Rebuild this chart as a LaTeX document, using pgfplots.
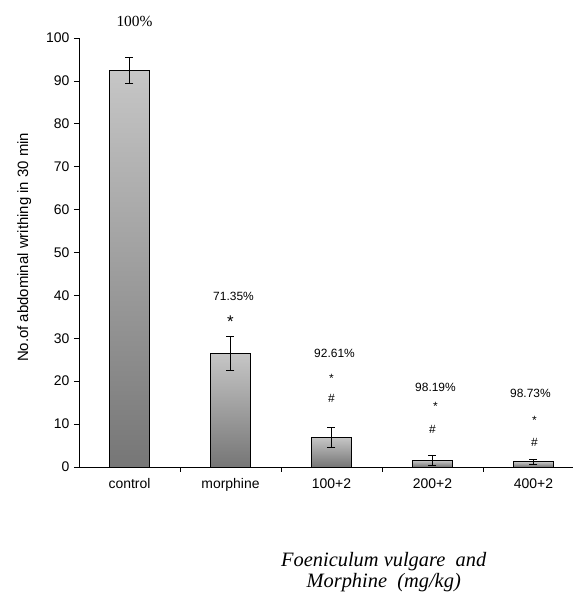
\documentclass[border=0pt]{standalone}
\usepackage{fontspec}
\setmainfont{Liberation Sans}
\newfontfamily\serif{Liberation Serif}
\usepackage{pgfplots}
\pgfplotsset{compat=1.18}

\definecolor{bartop}{RGB}{198,198,198}
\definecolor{barbot}{RGB}{118,118,118}

\pgfplotsset{mybar/.style={ybar, bar shift=0pt, draw=black, line width=0.7pt,
    top color=bartop, bottom color=barbot,
    error bars/.cd, y dir=both, y explicit,
    error bar style={black, line width=0.8pt},
    error mark options={rotate=90, mark size=4bp, black, line width=0.8pt}}}

\begin{document}
\begin{tikzpicture}
\path (0,0) rectangle (573bp,595bp);
\begin{axis}[
  at={(79bp,128bp)}, anchor=south west,
  scale only axis, width=494bp, height=429bp,
  xmin=-0.5, xmax=4.39, ymin=0, ymax=100,
  axis lines*=left,
  axis line style={line width=0.6pt},
  ytick={0,10,...,100},
  xtick={0,...,4},
  xticklabels={control,morphine,100+2,200+2,400+2},
  major x tick style={draw=none},
  minor xtick={0.5,1.5,2.5,3.5},
  tick align=outside,
  major tick length=5bp, minor tick length=5bp,
  tick style={black, line width=0.6pt},
  /pgf/number format/assume math mode=true,
  tick label style={font=\fontsize{14}{16}\selectfont},
  xticklabel style={yshift=-3bp},
  yticklabel style={xshift=-1bp},
  ylabel={No.of abdominal writhing in 30 min},
  ylabel style={at={(axis description cs:-0.111,0.512)}, anchor=center, font=\fontsize{15}{17}\selectfont},
  xlabel={\textit{Foeniculum vulgare\ \ and}\\\textit{Morphine\ \ (mg/kg)}},
  xlabel style={at={(axis description cs:0.617,-0.245)}, anchor=center, align=center, font=\serif\fontsize{20.5}{21}\selectfont},
  ybar, bar width=0.40,
  clip=false,
]
\addplot[mybar] coordinates {(0,92.5) +- (0,3.0)};
\addplot[mybar] coordinates {(1,26.5) +- (0,3.9)};
\addplot[mybar] coordinates {(2,6.9) +- (0,2.4)};
\addplot[mybar] coordinates {(3,1.5) +- (0,1.2)};
\addplot[mybar] coordinates {(4,1.2) +- (0,0.6)};

\node[anchor=base, font=\serif\fontsize{15.5}{17}\selectfont] at (axis cs:0.05,102.7) {100\%};
\node[anchor=base, font=\fontsize{12}{14}\selectfont] at (axis cs:1.03,38.7) {71.35\%};
\node[anchor=base, font=\fontsize{17}{19}\selectfont] at (axis cs:1.0,32.6) {*};
\node[anchor=base, font=\fontsize{12}{14}\selectfont] at (axis cs:2.03,25.6) {92.61\%};
\node[anchor=base, font=\fontsize{12}{14}\selectfont] at (axis cs:2.0,19.6) {*};
\node[anchor=base, font=\fontsize{12}{14}\selectfont] at (axis cs:2.0,14.9) {\#};
\node[anchor=base, font=\fontsize{12}{14}\selectfont] at (axis cs:3.03,17.5) {98.19\%};
\node[anchor=base, font=\fontsize{12}{14}\selectfont] at (axis cs:3.03,13.1) {*};
\node[anchor=base, font=\fontsize{12}{14}\selectfont] at (axis cs:3.0,7.9) {\#};
\node[anchor=base, font=\fontsize{12}{14}\selectfont] at (axis cs:3.97,16.1) {98.73\%};
\node[anchor=base, font=\fontsize{12}{14}\selectfont] at (axis cs:4.01,9.9) {*};
\node[anchor=base, font=\fontsize{12}{14}\selectfont] at (axis cs:4.01,4.7) {\#};
\end{axis}
\end{tikzpicture}
\end{document}
